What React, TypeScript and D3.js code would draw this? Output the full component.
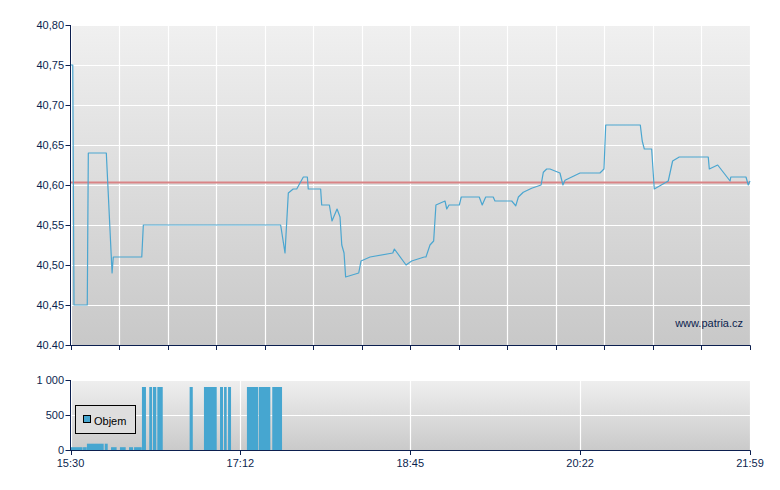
import React from "react";
import * as d3 from "d3";

// minutes after 15:30
const priceTimes = [0, 1.3, 2.0, 9.6, 10.2, 20.5, 23.8, 24.5, 40.8, 41.7, 120.3, 122.8, 124.7, 127.5, 129.5, 133.3, 135.6, 136.1, 143.2, 143.8, 148.2, 149.7, 152.6, 154.3, 155.3, 156.6, 157.5, 165.0, 166.3, 171.5, 184.5, 185.4, 192.1, 195.3, 202.5, 203.5, 205.8, 207.9, 209.2, 214.4, 215.4, 216.7, 222.6, 223.7, 234.0, 235.7, 237.7, 242.0, 243.0, 252.6, 254.9, 256.4, 259.2, 264.0, 269.4, 270.7, 272.6, 274.5, 280.2, 281.9, 283.1, 291.7, 303.1, 305.4, 306.4, 326.2, 327.3, 328.5, 332.7, 334.2, 342.2, 343.2, 344.7, 348.5, 365.1, 365.7, 370.5, 377.6, 378.0, 386.7, 388.0, 389];
const priceValues = [40.75, 40.75, 40.45, 40.45, 40.64, 40.64, 40.49, 40.51, 40.51, 40.55, 40.55, 40.515, 40.59, 40.595, 40.595, 40.61, 40.61, 40.595, 40.595, 40.575, 40.575, 40.555, 40.57, 40.56, 40.525, 40.515, 40.485, 40.49, 40.505, 40.51, 40.515, 40.52, 40.5, 40.505, 40.51, 40.51, 40.525, 40.53, 40.575, 40.58, 40.57, 40.575, 40.575, 40.585, 40.585, 40.575, 40.585, 40.585, 40.58, 40.58, 40.574, 40.585, 40.591, 40.596, 40.6, 40.616, 40.62, 40.62, 40.615, 40.6, 40.606, 40.615, 40.615, 40.62, 40.675, 40.675, 40.655, 40.645, 40.645, 40.595, 40.605, 40.615, 40.63, 40.635, 40.635, 40.62, 40.625, 40.605, 40.61, 40.61, 40.6, 40.605];
const prevClose = 40.603;

const volStart = [0, 7.2, 9.4, 19.6, 23.2, 28.3, 33.5, 36.4, 40.9, 45.1, 47.2, 49.7, 68.2, 76.4, 85.6, 87.9, 90.2, 101.0, 107.9, 115.5];
const volEnd = [6.9, 9.3, 19.0, 21.3, 26.4, 31.6, 35.8, 40.8, 43.2, 46.7, 49.1, 52.8, 70.0, 83.7, 87.3, 89.4, 91.9, 107.5, 114.4, 121.1];
const volValues = [40, 40, 90, 90, 40, 40, 40, 40, 900, 900, 900, 900, 900, 900, 900, 900, 900, 900, 900, 900];

const priceTicks = [40.8, 40.75, 40.7, 40.65, 40.6, 40.55, 40.5, 40.45, 40.4];
const priceTickLabels = ["40,80", "40,75", "40,70", "40,65", "40,60", "40,55", "40,50", "40,45", "40.40"];
const volTicks = [0, 500, 1000];
const volTickLabels = ["0", "500", "1 000"];
const timeLabels = ["15:30", "17:12", "18:45", "20:22", "21:59"];
const totalMinutes = 389;
const mainGridCount = 14;

const NAVY = "#0c1f4f";
const FONT = "Liberation Sans, Arial, sans-serif";

export default function App() {
  const x = d3.scaleLinear().domain([0, totalMinutes]).range([70.5, 750]);
  const y = d3.scaleLinear().domain([40.4, 40.8]).range([345, 25]);
  const yv = d3.scaleLinear().domain([0, 1000]).range([450, 380]);

  const mainGrid = d3.range(mainGridCount + 1).map((i) => (i * totalMinutes) / mainGridCount);
  const volGrid = timeLabels.map((_, i) => (i * totalMinutes) / (timeLabels.length - 1));

  const pts: [number, number][] = priceTimes.map((t, i) => [t, priceValues[i]]);
  const line = d3
    .line<[number, number]>()
    .x((d) => x(d[0]))
    .y((d) => y(d[1]));

  return (
    <svg width={780} height={490} style={{ position: "absolute", left: 0, top: 0 }}>
      <defs>
        <linearGradient id="bgMain" x1="0" y1="0" x2="0" y2="1">
          <stop offset="0" stopColor="#f0f0f0" />
          <stop offset="1" stopColor="#c8c8c8" />
        </linearGradient>
        <linearGradient id="bgVol" x1="0" y1="0" x2="0" y2="1">
          <stop offset="0" stopColor="#efefef" />
          <stop offset="1" stopColor="#cacaca" />
        </linearGradient>
      </defs>
      <rect width={780} height={490} fill="#ffffff" />

      {/* main panel */}
      <rect x={70.5} y={25} width={679.5} height={320} fill="url(#bgMain)" />
      {priceTicks.map((v) => (
        <line key={"hg" + v} x1={70.5} x2={750} y1={Math.round(y(v)) + 0.5} y2={Math.round(y(v)) + 0.5} stroke="#ffffff" strokeWidth={1.2} />
      ))}
      {mainGrid.map((t, i) => (
        <line key={"vg" + i} x1={Math.round(x(t)) + 0.5} x2={Math.round(x(t)) + 0.5} y1={25} y2={345} stroke="#ffffff" strokeWidth={1.2} />
      ))}
      <line x1={70.5} x2={750} y1={y(prevClose)} y2={y(prevClose)} stroke="#d98486" strokeWidth={2} />
      <path d={line(pts) || ""} fill="none" stroke="#4ba6d0" strokeWidth={1.2} strokeLinejoin="round" />
      <text x={743} y={327} textAnchor="end" fontFamily={FONT} fontSize={11} fill={NAVY}>
        www.patria.cz
      </text>

      {/* main axes */}
      <line x1={70.5} x2={70.5} y1={25} y2={345.5} stroke={NAVY} strokeWidth={1} />
      <line x1={70} x2={750.5} y1={345.5} y2={345.5} stroke={NAVY} strokeWidth={1} />
      {priceTicks.map((v, i) => (
        <g key={"pt" + v}>
          <line x1={65.5} x2={70.5} y1={Math.round(y(v)) + 0.5} y2={Math.round(y(v)) + 0.5} stroke={NAVY} />
          <text x={64} y={y(v) + 4} textAnchor="end" fontFamily={FONT} fontSize={11} fill={NAVY}>
            {priceTickLabels[i]}
          </text>
        </g>
      ))}
      {mainGrid.map((t, i) => (
        <line key={"xt" + i} x1={Math.round(x(t)) + 0.5} x2={Math.round(x(t)) + 0.5} y1={345.5} y2={350} stroke={NAVY} />
      ))}

      {/* volume panel */}
      <rect x={70.5} y={380} width={679.5} height={70} fill="url(#bgVol)" />
      {volTicks.map((v) => (
        <line key={"vhg" + v} x1={70.5} x2={750} y1={Math.round(yv(v)) + 0.5} y2={Math.round(yv(v)) + 0.5} stroke="#ffffff" strokeWidth={1.2} />
      ))}
      {volGrid.map((t, i) => (
        <line key={"vvg" + i} x1={Math.round(x(t)) + 0.5} x2={Math.round(x(t)) + 0.5} y1={380} y2={450} stroke="#ffffff" strokeWidth={1.2} />
      ))}
      {volValues.map((v, i) => (
        <rect
          key={"vb" + i}
          x={x(volStart[i])}
          y={yv(v)}
          width={x(volEnd[i]) - x(volStart[i])}
          height={yv(0) - yv(v)}
          fill="#46a6d0"
        />
      ))}
      <line x1={70.5} x2={70.5} y1={380} y2={450.5} stroke={NAVY} />
      <line x1={70} x2={750.5} y1={450.5} y2={450.5} stroke={NAVY} />
      {volTicks.map((v, i) => (
        <g key={"vt" + v}>
          <line x1={65.5} x2={70.5} y1={Math.round(yv(v)) + 0.5} y2={Math.round(yv(v)) + 0.5} stroke={NAVY} />
          <text x={64} y={yv(v) + 4} textAnchor="end" fontFamily={FONT} fontSize={11} fill={NAVY}>
            {volTickLabels[i]}
          </text>
        </g>
      ))}
      {volGrid.map((t, i) => (
        <g key={"tl" + i}>
          <line x1={Math.round(x(t)) + 0.5} x2={Math.round(x(t)) + 0.5} y1={450.5} y2={455} stroke={NAVY} />
          <text x={x(t)} y={467} textAnchor="middle" fontFamily={FONT} fontSize={11} fill={NAVY}>
            {timeLabels[i]}
          </text>
        </g>
      ))}

      {/* legend */}
      <rect x={75.5} y={405.5} width={60} height={28} fill="#dedede" stroke="#000000" strokeWidth={1} />
      <rect x={83.5} y={415.5} width={7} height={7} fill="#46a6d0" stroke="#000000" strokeWidth={1} />
      <text x={94} y={425} fontFamily={FONT} fontSize={11} fill="#000000">
        Objem
      </text>
    </svg>
  );
}
